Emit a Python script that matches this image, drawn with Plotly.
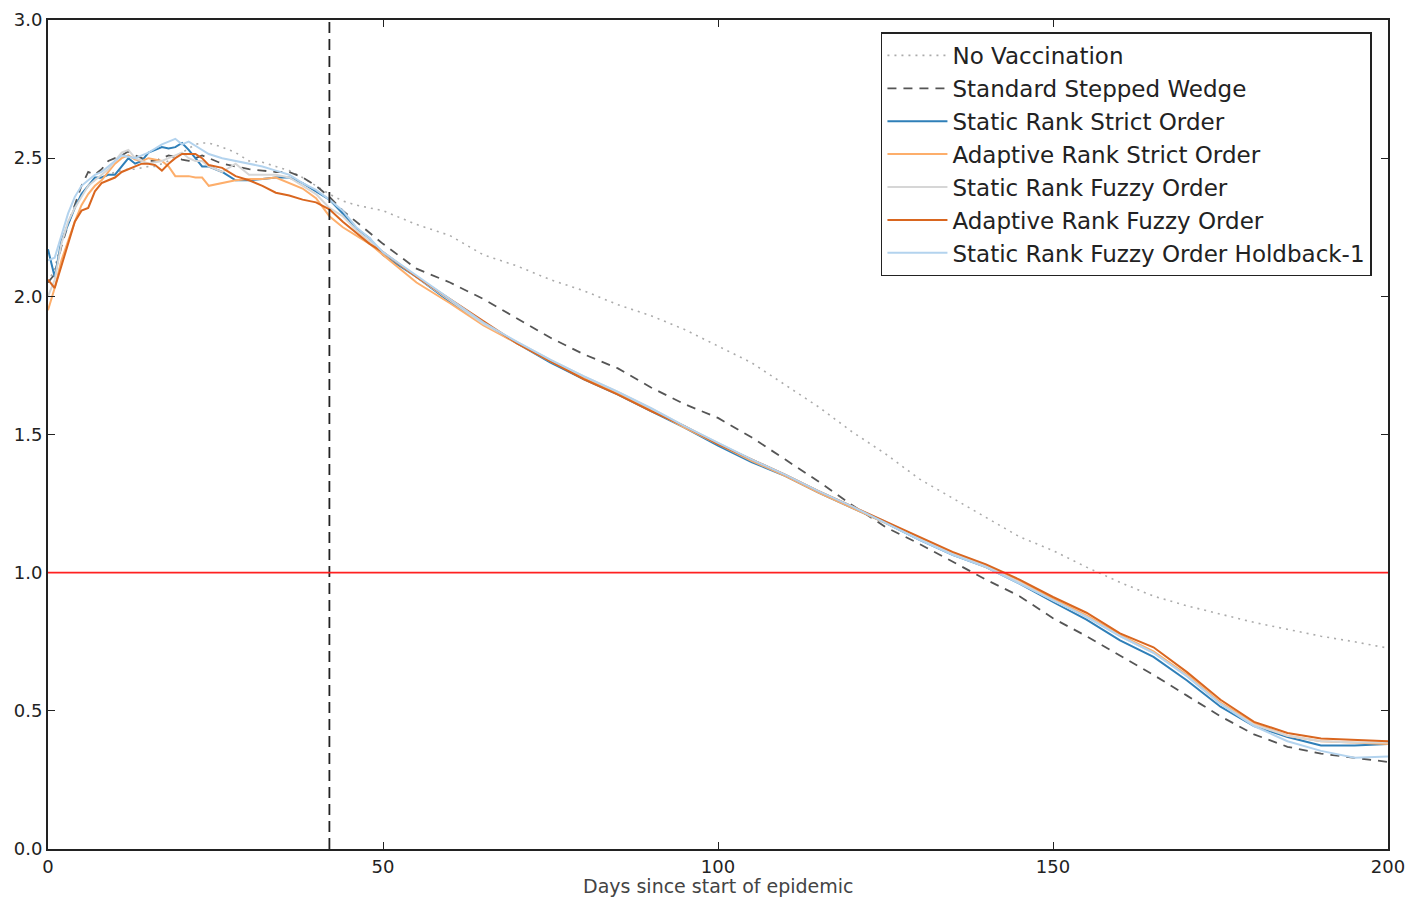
import plotly.graph_objects as go

# ---------------- data ----------------
days = [0, 1, 2, 3, 4, 5, 6, 7, 8, 9, 10, 11, 12, 13, 14, 15, 16, 17, 18, 19, 20, 21, 22, 23, 24,
        26, 28, 30, 32, 34, 36, 38, 40, 42, 44, 46, 48, 50,
        55, 60, 65, 70, 75, 80, 85, 90, 95, 100, 105, 110, 115, 120, 125, 130, 135, 140,
        145, 150, 155, 160, 165, 170, 175, 180, 185, 190, 195, 200]

no_vaccination = [2.05, 2.10, 2.20, 2.27, 2.32, 2.37, 2.40, 2.42, 2.43, 2.44, 2.45, 2.455, 2.46, 2.46, 2.465, 2.47, 2.47, 2.48, 2.49, 2.51, 2.52, 2.535, 2.55, 2.555, 2.555,
                  2.54, 2.52, 2.49, 2.485, 2.47, 2.455, 2.43, 2.40, 2.37, 2.345, 2.33, 2.32, 2.31,
                  2.26, 2.22, 2.15, 2.11, 2.06, 2.02, 1.97, 1.93, 1.88, 1.82, 1.76, 1.68, 1.60, 1.51, 1.43, 1.34, 1.27, 1.20,
                  1.13, 1.08, 1.02, 0.965, 0.915, 0.88, 0.85, 0.82, 0.795, 0.77, 0.75, 0.727]

stepped_wedge = [2.05, 2.08, 2.18, 2.26, 2.33, 2.40, 2.45, 2.44, 2.46, 2.49, 2.50, 2.51, 2.525, 2.51, 2.50, 2.49, 2.49, 2.50, 2.51, 2.505, 2.495, 2.49, 2.50, 2.51, 2.50,
                 2.48, 2.47, 2.46, 2.455, 2.45, 2.45, 2.43, 2.40, 2.36, 2.31, 2.27, 2.23, 2.19,
                 2.10, 2.05, 1.99, 1.92, 1.85, 1.79, 1.74, 1.67, 1.61, 1.56, 1.49, 1.41, 1.33, 1.245, 1.165, 1.105, 1.04, 0.975,
                 0.915, 0.835, 0.77, 0.70, 0.63, 0.555, 0.48, 0.415, 0.37, 0.345, 0.33, 0.315]

static_strict = [2.17, 2.07, 2.20, 2.26, 2.32, 2.37, 2.40, 2.43, 2.43, 2.44, 2.44, 2.47, 2.50, 2.48, 2.49, 2.52, 2.53, 2.54, 2.535, 2.54, 2.555, 2.53, 2.50, 2.47, 2.47,
                 2.45, 2.42, 2.42, 2.425, 2.43, 2.43, 2.41, 2.38, 2.35, 2.30, 2.245, 2.21, 2.15,
                 2.07, 1.98, 1.90, 1.83, 1.76, 1.70, 1.645, 1.585, 1.525, 1.46, 1.40, 1.35, 1.29, 1.235, 1.18, 1.12, 1.065, 1.02,
                 0.96, 0.894, 0.83, 0.755, 0.695, 0.61, 0.515, 0.445, 0.405, 0.375, 0.375, 0.38]

adaptive_strict = [1.95, 2.03, 2.13, 2.20, 2.27, 2.33, 2.37, 2.40, 2.42, 2.45, 2.48, 2.50, 2.51, 2.495, 2.49, 2.50, 2.495, 2.49, 2.47, 2.435, 2.435, 2.435, 2.43, 2.43, 2.40,
                   2.41, 2.42, 2.425, 2.425, 2.43, 2.41, 2.39, 2.355, 2.29, 2.25, 2.22, 2.19, 2.15,
                   2.05, 1.975, 1.895, 1.83, 1.765, 1.705, 1.65, 1.59, 1.525, 1.465, 1.405, 1.35, 1.29, 1.235, 1.18, 1.125, 1.07, 1.02,
                   0.97, 0.905, 0.845, 0.775, 0.715, 0.63, 0.53, 0.455, 0.41, 0.39, 0.385, 0.38]

static_fuzzy = [2.00, 2.06, 2.19, 2.27, 2.32, 2.36, 2.40, 2.42, 2.44, 2.46, 2.49, 2.52, 2.53, 2.50, 2.49, 2.48, 2.485, 2.49, 2.50, 2.51, 2.52, 2.50, 2.49, 2.49, 2.47,
                2.45, 2.48, 2.44, 2.44, 2.44, 2.43, 2.40, 2.37, 2.32, 2.29, 2.24, 2.20, 2.16,
                2.07, 1.985, 1.90, 1.835, 1.77, 1.71, 1.655, 1.595, 1.53, 1.47, 1.41, 1.355, 1.295, 1.24, 1.185, 1.125, 1.07, 1.025,
                0.965, 0.90, 0.84, 0.77, 0.71, 0.625, 0.525, 0.45, 0.41, 0.39, 0.385, 0.385]

adaptive_fuzzy = [2.06, 2.03, 2.11, 2.19, 2.27, 2.31, 2.32, 2.38, 2.41, 2.42, 2.43, 2.45, 2.46, 2.47, 2.48, 2.48, 2.475, 2.455, 2.48, 2.50, 2.515, 2.515, 2.515, 2.50, 2.475,
                  2.465, 2.435, 2.42, 2.40, 2.375, 2.365, 2.35, 2.34, 2.315, 2.27, 2.23, 2.19, 2.16,
                  2.07, 1.99, 1.91, 1.83, 1.765, 1.70, 1.645, 1.585, 1.53, 1.465, 1.41, 1.355, 1.295, 1.24, 1.185, 1.13, 1.075, 1.03,
                  0.975, 0.912, 0.855, 0.78, 0.73, 0.64, 0.54, 0.46, 0.42, 0.40, 0.395, 0.39]

holdback = [2.13, 2.14, 2.22, 2.30, 2.36, 2.40, 2.42, 2.44, 2.45, 2.47, 2.49, 2.51, 2.505, 2.50, 2.51, 2.52, 2.535, 2.55, 2.56, 2.57, 2.55, 2.56, 2.545, 2.53, 2.515,
            2.50, 2.49, 2.48, 2.47, 2.455, 2.44, 2.41, 2.385, 2.35, 2.31, 2.25, 2.21, 2.16,
            2.075, 1.99, 1.905, 1.835, 1.77, 1.71, 1.655, 1.595, 1.53, 1.47, 1.41, 1.355, 1.295, 1.24, 1.18, 1.12, 1.065, 1.02,
            0.96, 0.90, 0.84, 0.77, 0.71, 0.625, 0.525, 0.445, 0.39, 0.355, 0.33, 0.335]

series_names = ["No Vaccination", "Standard Stepped Wedge", "Static Rank Strict Order",
                "Adaptive Rank Strict Order", "Static Rank Fuzzy Order",
                "Adaptive Rank Fuzzy Order", "Static Rank Fuzzy Order Holdback-1"]

vaccination_start_day = 42
threshold = 1.0
x_ticks = [0, 50, 100, 150, 200]
y_ticks = [0.0, 0.5, 1.0, 1.5, 2.0, 2.5, 3.0]
x_title = "Days since start of epidemic"

# ---------------- styles ----------------
styles = [
    dict(color="#ababab", width=1.6, dash="2px,5px"),
    dict(color="#555555", width=1.8, dash="9px,7px"),
    dict(color="#2f7fb8", width=2.0, dash="solid"),
    dict(color="#fdae6b", width=2.0, dash="solid"),
    dict(color="#d6d6d6", width=2.0, dash="solid"),
    dict(color="#d9661f", width=2.0, dash="solid"),
    dict(color="#b3d3ee", width=2.0, dash="solid"),
]
all_series = [no_vaccination, stepped_wedge, static_strict, adaptive_strict,
              static_fuzzy, adaptive_fuzzy, holdback]

FONT = "DejaVu Sans"
fig = go.Figure()

for name, ys, st in zip(series_names, all_series, styles):
    fig.add_trace(go.Scatter(x=days, y=ys, mode="lines", name=name, line=st))

# reference lines
fig.add_shape(type="line", xref="x", yref="y", x0=vaccination_start_day, x1=vaccination_start_day,
              y0=0, y1=3.0, line=dict(color="#222222", width=1.8, dash="11px,6px"), layer="above")
fig.add_shape(type="line", xref="x", yref="y", x0=0, x1=200, y0=threshold, y1=threshold,
              line=dict(color="#ff2020", width=1.6), layer="above")

axis_common = dict(
    showgrid=False, zeroline=False, showline=True, linecolor="#222222", linewidth=2,
    mirror="allticks", ticks="inside", ticklen=7, tickwidth=1.2, tickcolor="#222222",
    tickfont=dict(family=FONT, size=18, color="#222222"), automargin=False,
)

fig.update_xaxes(range=[0, 200], tickvals=x_ticks, ticktext=[str(v) for v in x_ticks],
                 **axis_common)
fig.update_yaxes(range=[0, 3.0], tickvals=y_ticks, ticktext=[f"{v:.1f}" for v in y_ticks],
                 **axis_common)

# x-axis title placed just below the tick labels
fig.add_annotation(text=x_title, xref="paper", yref="paper", x=0.5, y=0,
                   xanchor="center", yanchor="top", yshift=-24, showarrow=False,
                   font=dict(family=FONT, size=19, color="#444444"))

# the page body adds an 8px margin, so the figure is sized to fit the window
fig.update_layout(
    width=1400, height=890,
    margin=dict(l=40, r=20, t=12, b=49),
    plot_bgcolor="white", paper_bgcolor="white",
    font=dict(family=FONT, color="#222222"),
    legend=dict(x=0.6216, y=0.985, xanchor="left", yanchor="top",
                bgcolor="white", bordercolor="#222222", borderwidth=1.5,
                font=dict(family=FONT, size=23, color="#222222"),
                tracegroupgap=0, itemwidth=60),
    showlegend=True,
)

fig.write_html("out.html")
